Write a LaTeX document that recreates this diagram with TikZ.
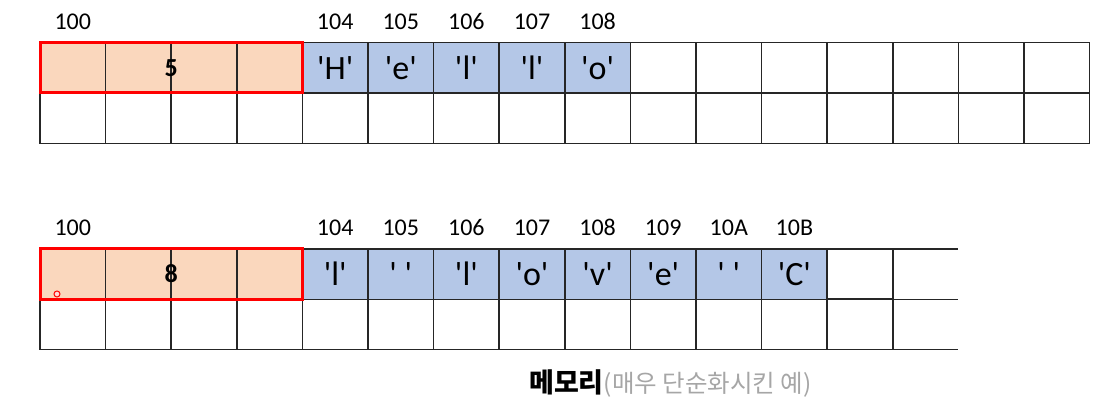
\documentclass[tikz,border=0pt]{standalone}
\usepackage{fontspec}
\setmainfont{Carlito}
\newfontfamily\kr{Noto Sans CJK KR}
\usetikzlibrary{fit}
\definecolor{peach}{HTML}{FAD7BD}
\definecolor{lblue}{HTML}{B4C7E7}
\definecolor{capgray}{HTML}{A6A6A6}
\newcommand\qq[1]{\textquotesingle#1\textquotesingle}
\tikzset{
  cell/.style={draw=black!85, line width=1.5pt, minimum width=65.6pt, minimum height=50.5pt,
    inner sep=0pt, outer sep=0pt, font=\fontsize{34}{36}\selectfont},
  org/.style={cell, fill=peach},
  blu/.style={cell, fill=lblue},
  gridline/.style={draw=black!85, line width=1.5pt},
  addr/.style={font=\fontsize{24}{26}\selectfont, inner sep=0pt, anchor=base},
  redbox/.style={draw=red, line width=3pt, inner sep=0pt},
  val/.style={font=\bfseries\fontsize{26}{28}\selectfont, inner sep=0pt},
}
\begin{document}
\begin{tikzpicture}[x=1pt,y=-1pt]
\useasboundingbox (0,0) rectangle (1120,417);
% ---- grid 1 ----
\foreach \i in {0,...,15}
  \node[cell] (b\i) at ({72.8+65.6*\i},118.25) {};
\foreach \i in {0,...,3}
  \node[org] (a\i) at ({72.8+65.6*\i},67.75) {};
\foreach \i/\t in {4/H,5/e,6/l,7/l,8/o}
  \node[blu] (a\i) at ({72.8+65.6*\i},67.75) {\qq{\t}};
\foreach \i in {9,...,15}
  \node[cell] (a\i) at ({72.8+65.6*\i},67.75) {};
\node[redbox, fit=(a0)(a3)] (r1) {};
\node[val] (v1) at (r1.center) {5};
\foreach \i/\t in {0/100,4/104,5/105,6/106,7/107,8/108}
  \node[addr] (la\i) at ({72.8+65.6*\i},29.5) {\t};
% ---- grid 2 ----
\foreach \i in {0,...,12}
  \node[cell] (d\i) at ({72.8+65.6*\i},324) {};
\foreach \i in {0,...,3}
  \node[org] (c\i) at ({72.8+65.6*\i},274) {};
\foreach \i/\t in {4/l,5/\ ,6/l,7/o,8/v,9/e,10/\ ,11/C}
  \node[blu] (c\i) at ({72.8+65.6*\i},274) {\qq{\t}};
\node[cell] (c12) at ({72.8+65.6*12},274) {};
\coordinate (e1) at ([xshift=65.4pt]c12.north east);
\coordinate (e2) at ([xshift=65.4pt]c12.south east);
\coordinate (e3) at ([xshift=65.4pt]d12.south east);
\draw[gridline] (c12.north east) -- (e1);
\draw[gridline] (c12.south east) -- (e2);
\draw[gridline] (d12.south east) -- (e3);
\node[redbox, fit=(c0)(c3)] (r2) {};
\node[val] (v2) at (r2.center) {8};
\foreach \i/\t in {0/100,4/104,5/105,6/106,7/107,8/108,9/109,10/10A,11/10B}
  \node[addr] (lc\i) at ({72.8+65.6*\i},236) {\t};
\node[circle, draw=red, fill=red!15, line width=1pt, minimum size=6pt, inner sep=0pt] (dot) at (57,294) {};
% ---- caption ----
\node[anchor=west, inner sep=0pt, font=\kr] (cap) at (529,383)
  {\fontsize{27}{30}\selectfont\textbf{메모리}\fontsize{24.5}{28}\selectfont\textcolor{capgray}{(매우 단순화시킨 예)}};
\end{tikzpicture}
\end{document}
